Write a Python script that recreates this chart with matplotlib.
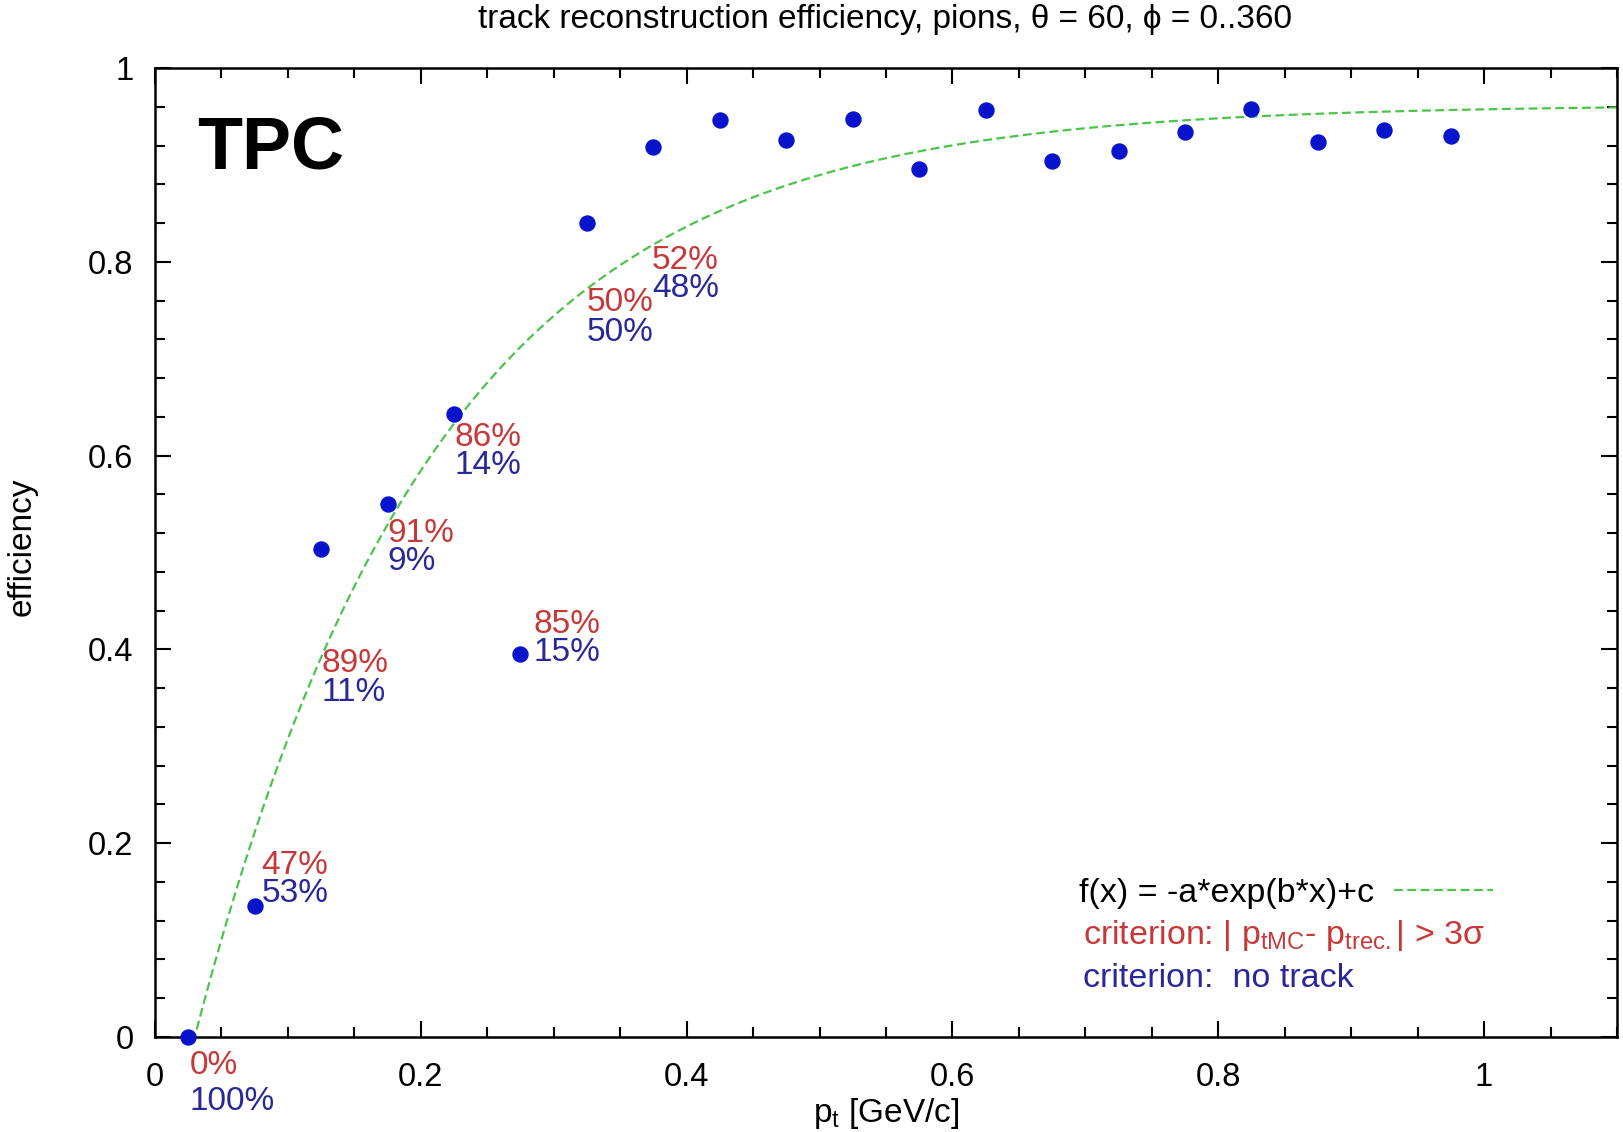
import matplotlib
matplotlib.use("Agg")
import matplotlib.pyplot as plt
import numpy as np
from matplotlib.ticker import MultipleLocator, FuncFormatter

plt.rcParams['font.family'] = ['Liberation Sans', 'DejaVu Sans']
plt.rcParams['mathtext.fontset'] = 'custom'
plt.rcParams['mathtext.rm'] = 'Liberation Sans'
plt.rcParams['mathtext.it'] = 'Liberation Sans:italic'
plt.rcParams['mathtext.bf'] = 'Liberation Sans:bold'

# ---- data ----
pt = [0.025, 0.075, 0.125, 0.175, 0.225, 0.275, 0.325, 0.375, 0.425, 0.475,
      0.525, 0.575, 0.625, 0.675, 0.725, 0.775, 0.825, 0.875, 0.925, 0.975]
efficiency = [0.0, 0.135, 0.504, 0.550, 0.643, 0.395, 0.840, 0.918, 0.946, 0.926,
              0.947, 0.896, 0.957, 0.904, 0.914, 0.934, 0.958, 0.924, 0.936, 0.930]

# fit parameters of f(x) = -a*exp(b*x)+c
fit_a = 1.134
fit_b = -5.5
fit_c = 0.962

# percentages of lost tracks per bin
red_labels = ["0%", "47%", "89%", "91%", "86%", "85%", "50%", "52%"]
blue_labels = ["100%", "53%", "11%", "9%", "14%", "15%", "50%", "48%"]
# label anchor placement (data coords, left/baseline)
label_x = [0.026, 0.080, 0.1255, 0.175, 0.225, 0.285, 0.3245, 0.374]
red_y = [-0.038, 0.168, 0.377, 0.511, 0.610, 0.417, 0.749, 0.793]
blue_y = [-0.075, 0.139, 0.347, 0.482, 0.581, 0.388, 0.718, 0.764]

xticks = [0, 0.2, 0.4, 0.6, 0.8, 1.0]
yticks = [0, 0.2, 0.4, 0.6, 0.8, 1.0]

RED = '#c83838'
BLUE = '#28289a'
DOT = '#0814cc'
GREEN = '#4cc44c'

W, H = 1624, 1132
fig = plt.figure(figsize=(W / 100, H / 100), dpi=100)
ax = fig.add_axes([155 / W, 95 / H, 1462 / W, 969 / H])
ax.set_xlim(0, 1.1)
ax.set_ylim(0, 1)

# fit curve
xf = np.linspace(0, 1.1, 400)
yf = -fit_a * np.exp(fit_b * xf) + fit_c
ax.plot(xf, yf, color=GREEN, lw=1.6, dashes=(4, 2), zorder=2,
        label="f(x) = -a*exp(b*x)+c")

# points
ax.plot(pt, efficiency, 'o', color=DOT, ms=10.8, zorder=4, clip_on=False)

# annotations
for x, yr, yb, tr, tb in zip(label_x, red_y, blue_y, red_labels, blue_labels):
    ax.text(x, yr, tr, color=RED, fontsize=24, ha='left', va='baseline', zorder=5)
    ax.text(x, yb, tb, color=BLUE, fontsize=24, ha='left', va='baseline', zorder=5)

# TPC label
ax.text(0.032, 0.896, "TPC", fontsize=53, fontweight='bold', ha='left',
        va='baseline', color='black')

# legend (fit line)
leg = ax.legend(loc='center right', bbox_to_anchor=(0.915, 0.148), frameon=False,
                markerfirst=False, fontsize=24.5, handlelength=2.9,
                handletextpad=0.6, borderpad=0, borderaxespad=0)
ax.text(0.698, 0.096, r"criterion: | p$_\mathrm{tMC}$- p$_\mathrm{trec.}$| > 3σ",
        color=RED, fontsize=24.5, ha='left', va='baseline')
ax.text(0.698, 0.052, "criterion:  no track", color=BLUE, fontsize=24.5,
        ha='left', va='baseline')

# axes styling
ax.xaxis.set_major_locator(MultipleLocator(0.2))
ax.xaxis.set_minor_locator(MultipleLocator(0.05))
ax.yaxis.set_major_locator(MultipleLocator(0.2))
ax.yaxis.set_minor_locator(MultipleLocator(0.04))
ax.set_xticks(xticks)
ax.set_yticks(yticks)
fmt = FuncFormatter(lambda v, p: f"{v:g}")
ax.xaxis.set_major_formatter(fmt)
ax.yaxis.set_major_formatter(fmt)
ax.tick_params(which='both', direction='in', top=True, right=True, width=1.5,
               labelsize=23.5)
ax.tick_params(which='major', length=11.5)
ax.tick_params(which='minor', length=7)
ax.tick_params(axis='x', pad=18)
ax.tick_params(axis='y', pad=15.5)
for s in ax.spines.values():
    s.set_linewidth(1.8)

# titles and axis labels
fig.text(885 / W, 1 - 28.3 / H, "track reconstruction efficiency, pions, θ = 60, ϕ = 0..360",
         fontsize=24, ha='center', va='baseline')
fig.text(886 / W, 1 - 1122 / H, r"p$_\mathrm{t}$ [GeV/c]", fontsize=24,
         ha='center', va='baseline')
fig.text(22 / W, 1 - 547 / H, "efficiency", fontsize=24, rotation=90,
         ha='center', va='center')

fig.savefig("out.png", dpi=100)
